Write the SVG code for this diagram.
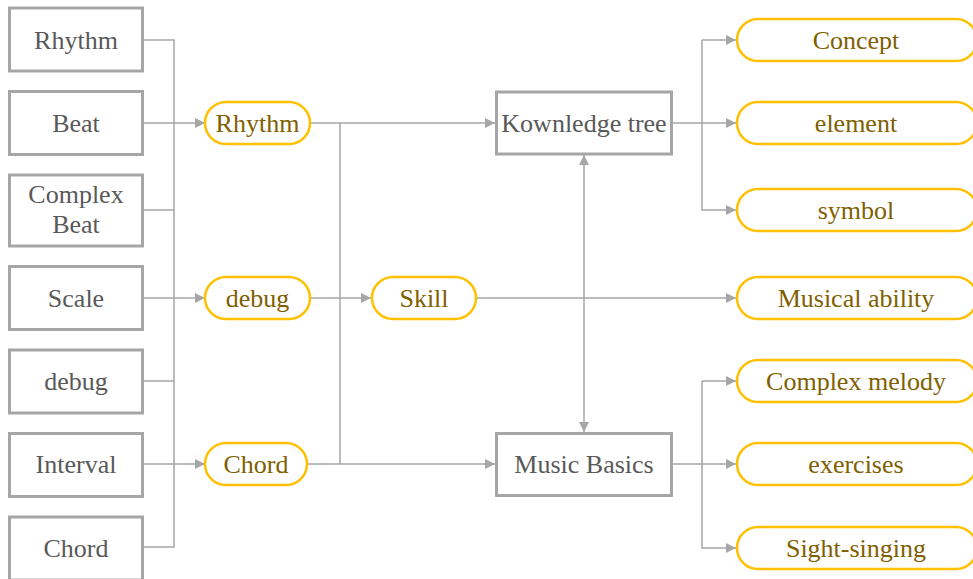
<svg xmlns="http://www.w3.org/2000/svg" width="973" height="579" viewBox="0 0 973 579">
  <style>
    .box { fill: #ffffff; stroke: #a6a6a6; stroke-width: 3; }
    .pill { fill: #ffffff; stroke: #ffc000; stroke-width: 2.5; }
    .t { font-family: "Liberation Serif", "Times New Roman", serif; font-size: 26px; text-anchor: middle; }
    .tg { fill: #595959; }
    .ty { fill: #7f6000; }
    .ln { fill: none; stroke: #a6a6a6; stroke-width: 1.5; }
    .arr { marker-end: url(#ah); }
  </style>
  <defs>
    <marker id="ah" viewBox="0 0 10 10" refX="10" refY="5" markerUnits="userSpaceOnUse" markerWidth="10" markerHeight="10" orient="auto-start-reverse">
      <path d="M0,0 L10,5 L0,10 z" fill="#a6a6a6"/>
    </marker>
  </defs>
  <rect width="973" height="579" fill="#ffffff"/>

  <!-- connectors -->
  <g id="connectors">
    <!-- left bus -->
    <path class="ln" d="M143,40 H174 V547 H143"/>
    <path class="ln" d="M143,210 H174"/>
    <path class="ln" d="M143,381 H174"/>
    <path class="ln arr" d="M143,123 H205"/>
    <path class="ln arr" d="M143,298 H205"/>
    <path class="ln arr" d="M143,464 H205"/>
    <!-- middle bus -->
    <path class="ln" d="M340,123 V464"/>
    <path class="ln arr" d="M310,123 H495"/>
    <path class="ln arr" d="M310,298 H371"/>
    <path class="ln arr" d="M307,464 H495"/>
    <!-- skill to musical ability -->
    <path class="ln arr" d="M476,298 H736"/>
    <!-- knowledge tree <-> music basics -->
    <path class="ln" d="M584,155 V432" marker-start="url(#ah)" marker-end="url(#ah)"/>
    <!-- right upper bus -->
    <path class="ln" d="M672,123 H702"/>
    <path class="ln arr" d="M702,40 V210 H736"/>
    <path class="ln arr" d="M702,40 H736"/>
    <path class="ln arr" d="M702,123 H736"/>
    <!-- right lower bus -->
    <path class="ln" d="M672,464 H702"/>
    <path class="ln arr" d="M702,381 V548 H736"/>
    <path class="ln arr" d="M702,381 H736"/>
    <path class="ln arr" d="M702,464 H736"/>
  </g>

  <!-- left column -->
  <g id="n-rhythm-src"><rect class="box" x="9.5" y="8" width="133" height="63"/><text class="t tg" x="76" y="49">Rhythm</text></g>
  <g id="n-beat"><rect class="box" x="9.5" y="91.5" width="133" height="63"/><text class="t tg" x="76" y="132">Beat</text></g>
  <g id="n-complex-beat"><rect class="box" x="9.5" y="175" width="133" height="71"/><text class="t tg" x="76" y="203">Complex</text><text class="t tg" x="76" y="233">Beat</text></g>
  <g id="n-scale"><rect class="box" x="9.5" y="266.5" width="133" height="63"/><text class="t tg" x="76" y="307">Scale</text></g>
  <g id="n-debug-src"><rect class="box" x="9.5" y="350" width="133" height="63"/><text class="t tg" x="76" y="390">debug</text></g>
  <g id="n-interval"><rect class="box" x="9.5" y="433.5" width="133" height="63"/><text class="t tg" x="76" y="473">Interval</text></g>
  <g id="n-chord-src"><rect class="box" x="9.5" y="517" width="133" height="63"/><text class="t tg" x="76" y="557">Chord</text></g>

  <!-- middle pills -->
  <g id="n-rhythm"><rect class="pill" x="205" y="102" width="105" height="42" rx="21"/><text class="t ty" x="257.5" y="132">Rhythm</text></g>
  <g id="n-debug"><rect class="pill" x="205" y="277" width="105" height="42" rx="21"/><text class="t ty" x="257.5" y="307">debug</text></g>
  <g id="n-chord"><rect class="pill" x="205" y="443" width="102" height="42" rx="21"/><text class="t ty" x="256" y="473">Chord</text></g>
  <g id="n-skill"><rect class="pill" x="372" y="277" width="104" height="42" rx="21"/><text class="t ty" x="424" y="307">Skill</text></g>

  <!-- centre boxes -->
  <g id="n-knowledge-tree"><rect class="box" x="496.5" y="92" width="175" height="62"/><text class="t tg" x="584" y="132">Kownledge tree</text></g>
  <g id="n-music-basics"><rect class="box" x="496.5" y="433.5" width="175" height="62"/><text class="t tg" x="584" y="473">Music Basics</text></g>

  <!-- right pills -->
  <g id="n-concept"><rect class="pill" x="737" y="19" width="240" height="42" rx="21"/><text class="t ty" x="856" y="49">Concept</text></g>
  <g id="n-element"><rect class="pill" x="737" y="102" width="240" height="42" rx="21"/><text class="t ty" x="856" y="132">element</text></g>
  <g id="n-symbol"><rect class="pill" x="737" y="189" width="240" height="42" rx="21"/><text class="t ty" x="856" y="219">symbol</text></g>
  <g id="n-musical-ability"><rect class="pill" x="737" y="277" width="240" height="42" rx="21"/><text class="t ty" x="856" y="307">Musical ability</text></g>
  <g id="n-complex-melody"><rect class="pill" x="737" y="360" width="240" height="42" rx="21"/><text class="t ty" x="856" y="390">Complex melody</text></g>
  <g id="n-exercises"><rect class="pill" x="737" y="443" width="240" height="42" rx="21"/><text class="t ty" x="856" y="473">exercises</text></g>
  <g id="n-sight-singing"><rect class="pill" x="737" y="527" width="240" height="42" rx="21"/><text class="t ty" x="856" y="557">Sight-singing</text></g>
</svg>
